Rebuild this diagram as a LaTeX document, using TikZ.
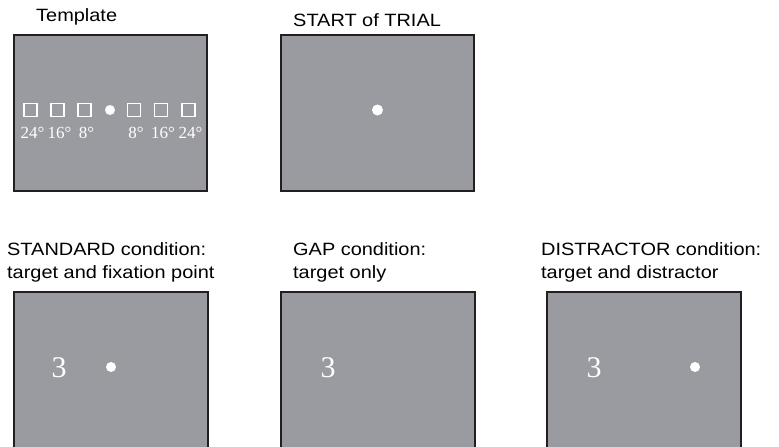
\documentclass[tikz,border=0pt]{standalone}
\usepackage{fontspec}
\setmainfont{Liberation Sans}[FakeStretch=1.12]
\newfontfamily\digitfont{Liberation Serif}
\definecolor{screengray}{RGB}{154,155,160}
\definecolor{frame}{RGB}{35,31,32}
\tikzset{
  screen/.style={fill=screengray, draw=frame, line width=2pt},
  openscreen/.style={draw=frame, line width=2pt},
  caption/.style={anchor=base west, inner sep=0pt, text=black, font=\fontsize{17.8}{20}\selectfont},
  slot/.style={draw=white, line width=1.8pt, minimum size=13pt, inner sep=0pt},
  ecc/.style={anchor=base, inner sep=0pt, text=white, font=\digitfont\fontsize{17}{18}\selectfont},
  target/.style={anchor=center, inner sep=0pt, text=white, font=\digitfont\fontsize{30}{32}\selectfont},
  fixdot/.style={circle, fill=white, inner sep=0pt, minimum size=10pt},
}
\begin{document}
\begin{tikzpicture}[x=1pt, y=-1pt]
\useasboundingbox (0,0) rectangle (779,447);

% top row: template and start-of-trial screens
\node[caption] (ttpl) at (36,21) {Template};
\path[screen] (14,35) rectangle (207,191);
\node[caption] (tstart) at (293,26) {START of TRIAL};
\path[screen] (281,35) rectangle (474,191);

% template: fixation point with three placeholder squares on each side
\node[fixdot] (c0) at (110,110) {};
\foreach \n/\x/\lab in {l3/30.5/24, l2/57.5/16, l1/84.5/8, r1/134/8, r2/161/16, r3/188.5/24}{
  \node[slot] (s\n) at (\x,110) {};
  \node[ecc] at (\x+2,138) {\lab°};
}

% start of trial: central fixation point
\node[fixdot, minimum size=11pt] (c1) at (377.5,110) {};

% bottom row captions
\node[caption] (tstd1) at (7,255) {STANDARD condition:};
\node[caption] (tstd2) at (7,278) {target and fixation point};
\node[caption] (tgap1) at (293,255) {GAP condition:};
\node[caption] (tgap2) at (293,278) {target only};
\node[caption] (tdis1) at (541,255) {DISTRACTOR condition:};
\node[caption] (tdis2) at (541,278) {target and distractor};

% bottom row screens run past the lower edge
\foreach \l in {14,281,547}{
  \fill[screengray] (\l,292) rectangle (\l+194,450);
  \draw[openscreen] (\l,452) -- (\l,292) -- (\l+194,292) -- (\l+194,452);
}

% standard: target plus fixation point
\node[target] (g1) at (59,368) {3};
\node[fixdot] (c2) at (111,367) {};
% gap: target alone
\node[target] (g2) at (328,368) {3};
% distractor: target plus peripheral distractor
\node[target] (g3) at (594,368) {3};
\node[fixdot] (d3) at (695,367) {};
\end{tikzpicture}
\end{document}
